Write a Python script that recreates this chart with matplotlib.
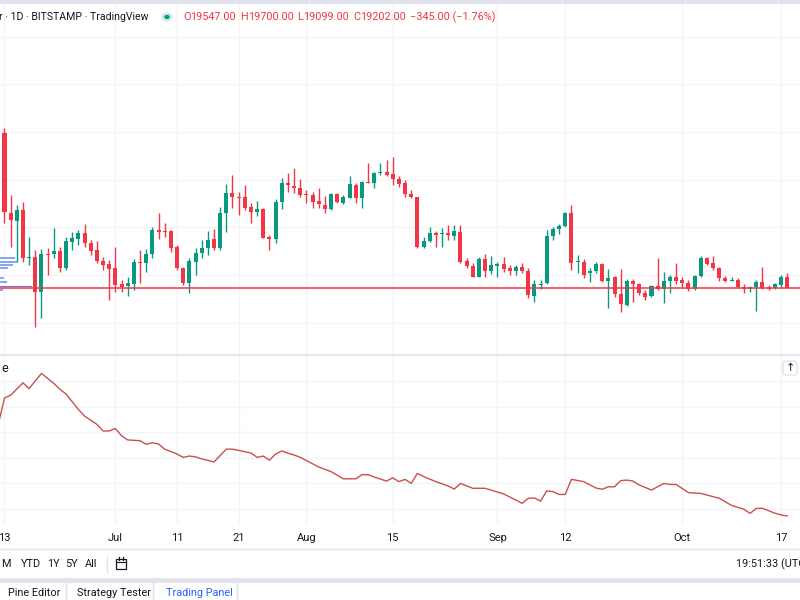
import matplotlib
matplotlib.use('Agg')
import matplotlib.pyplot as plt
import matplotlib.dates as mdates
from matplotlib.patches import Rectangle, Circle, FancyBboxPatch
from matplotlib.lines import Line2D
import pandas as pd

plt.rcParams['font.family'] = ['Roboto', 'DejaVu Sans']

# ---------------- data ----------------
dates = pd.date_range('2022-06-12', '2022-10-18', freq='D')

opens = [27300, 25950, 22590, 22270, 22730, 20700, 20740, 19270, 20880, 20870, 21020, 20310, 21400, 21510,
         21780, 21330, 21050, 20600, 20450, 20280, 19610, 19550, 19620, 20560, 20490, 20870, 21890, 21850,
         21850, 21180, 20310, 19650, 20530, 20910, 21120, 21500, 21120, 22620, 23430, 23260, 23260, 22840,
         22630, 22760, 21610, 21530, 23080, 23850, 23750, 23670, 23390, 23360, 23110, 22940, 22760, 23390,
         23010, 23250, 23780, 23220, 23920, 23880, 24270, 24310, 24230, 24030, 23850, 23390, 23260, 21160,
         21440, 21780, 21710, 21780, 21650, 21820, 20590, 20380, 19920, 20660, 20170, 20390, 20460, 20290,
         20170, 20350, 20150, 19120, 19570, 19650, 21640, 21920, 22070, 22590, 20530, 20560, 20100, 20170,
         20460, 19760, 19900, 19200, 18740, 19760, 19620, 19260, 19120, 19550, 19410, 19760, 19930, 19790,
         19650, 19400, 19960, 20700, 20520, 20280, 19860, 19760, 19790, 19510, 19400, 19480, 19720, 19510,
         19440, 19580, 19900]
highs = [27500, 26160, 23360, 22940, 23080, 21610, 21050, 21090, 21120, 21960, 21190, 21610, 21790, 21890,
         22130, 21470, 21440, 20770, 20630, 21190, 19790, 19930, 20670, 21050, 21080, 22030, 22590, 22200,
         21890, 21260, 20350, 20700, 21120, 21470, 21860, 21920, 22870, 23810, 24200, 23500, 23780, 23010,
         23110, 22800, 21680, 23180, 24090, 24270, 24480, 24020, 23570, 23500, 23640, 23320, 23460, 23430,
         23360, 24160, 23880, 23960, 24690, 24340, 24690, 24830, 24970, 24160, 23990, 23570, 23290, 21610,
         22030, 21850, 21960, 22120, 22100, 22080, 20700, 20490, 20770, 20880, 20800, 20550, 20740, 20400,
         20420, 20490, 20280, 19790, 19790, 21890, 22030, 22140, 22660, 22940, 20840, 20670, 20280, 20560,
         20520, 20240, 19960, 20240, 19820, 19820, 19680, 19370, 19580, 20700, 20140, 20000, 20520, 19900,
         19790, 20000, 20800, 20770, 20800, 20350, 19960, 19900, 19890, 19620, 19530, 19790, 20320, 19580,
         19680, 20000, 20070]
lows = [25950, 22170, 21190, 20560, 20560, 20420, 17830, 18210, 20000, 20730, 20140, 20210, 21050, 21260,
        21190, 20840, 20490, 20210, 18950, 19300, 19300, 19130, 19370, 19650, 20110, 20700, 21510, 21610,
        20980, 20210, 19580, 19230, 20000, 20700, 20840, 21050, 21050, 21820, 22800, 22520, 22730, 22170,
        22480, 21540, 21050, 21330, 22760, 23500, 23430, 23290, 23010, 22830, 22800, 22590, 22730, 23010,
        22980, 23220, 23010, 22830, 23850, 23640, 24200, 24160, 23780, 23710, 23290, 23220, 21120, 21120,
        21370, 21190, 21190, 21470, 21470, 20500, 20280, 19900, 19900, 19930, 20040, 19930, 20140, 20000,
        20000, 20070, 19020, 18880, 19400, 19620, 21470, 21710, 22030, 20210, 20080, 19860, 19720, 20070,
        19720, 18600, 19090, 18460, 18700, 18880, 19160, 18950, 19090, 19370, 18810, 19230, 19620, 19510,
        19340, 19370, 19900, 20420, 20210, 19760, 19710, 19730, 19440, 19230, 19290, 18500, 19400, 19370,
        19400, 19510, 19450]
closes = [26000, 22630, 22310, 22730, 20730, 20740, 19300, 20870, 20840, 21020, 20310, 21430, 21540, 21780,
          21330, 21010, 20600, 20420, 20250, 19580, 19510, 19650, 20560, 20490, 20870, 21890, 21820, 21810,
          21150, 20280, 19650, 20590, 20910, 21120, 21470, 21120, 22620, 23460, 23260, 23220, 22830, 22630,
          22760, 21570, 21530, 23080, 23850, 23780, 23640, 23360, 23350, 23080, 22970, 22760, 23400, 23080,
          23260, 23810, 23220, 23920, 23880, 24270, 24310, 24200, 24030, 23810, 23390, 23260, 21160, 21440,
          21780, 21700, 21780, 21680, 21850, 20560, 20380, 19920, 20680, 20170, 20420, 20460, 20250, 20180,
          20350, 20160, 19140, 19620, 19610, 21640, 21920, 22070, 22600, 20520, 20580, 20020, 20170, 20460,
          19760, 19860, 19200, 18780, 19760, 19620, 19230, 19090, 19540, 19410, 19760, 19930, 19760, 19650,
          19400, 19960, 20700, 20460, 20280, 19860, 19760, 19790, 19480, 19400, 19480, 19720, 19440, 19400,
          19610, 19900, 19460]

ind_dates = ['2022-06-12', '2022-06-13', '2022-06-14', '2022-06-16', '2022-06-17', '2022-06-19', '2022-06-21',
             '2022-06-22', '2022-06-23', '2022-06-25', '2022-06-26', '2022-06-28', '2022-06-29', '2022-06-30',
             '2022-07-01', '2022-07-02', '2022-07-03', '2022-07-05', '2022-07-06', '2022-07-07', '2022-07-08',
             '2022-07-09', '2022-07-11', '2022-07-12', '2022-07-13', '2022-07-14', '2022-07-15', '2022-07-17',
             '2022-07-19', '2022-07-20', '2022-07-21', '2022-07-23', '2022-07-24', '2022-07-25', '2022-07-26',
             '2022-07-27', '2022-07-28', '2022-07-29', '2022-07-30', '2022-07-31', '2022-08-03', '2022-08-05',
             '2022-08-07', '2022-08-09', '2022-08-10', '2022-08-11', '2022-08-12', '2022-08-14', '2022-08-15',
             '2022-08-16', '2022-08-17', '2022-08-18', '2022-08-19', '2022-08-20', '2022-08-22', '2022-08-24',
             '2022-08-25', '2022-08-26', '2022-08-28', '2022-08-30', '2022-09-02', '2022-09-04', '2022-09-05',
             '2022-09-06', '2022-09-07', '2022-09-08', '2022-09-09', '2022-09-10', '2022-09-11', '2022-09-12',
             '2022-09-13', '2022-09-15', '2022-09-17', '2022-09-18', '2022-09-19', '2022-09-20', '2022-09-21',
             '2022-09-22', '2022-09-23', '2022-09-24', '2022-09-26', '2022-09-28', '2022-09-29', '2022-09-30',
             '2022-10-02', '2022-10-04', '2022-10-07', '2022-10-09', '2022-10-11', '2022-10-12', '2022-10-13',
             '2022-10-14', '2022-10-16', '2022-10-17', '2022-10-18']
ind_values = [53.2, 63.4, 64.5, 69.3, 67.1, 73.0, 69.1, 66.8, 64.9, 58.9, 56.3, 53.1, 50.5, 50.5,
              51.5, 48.6, 47.0, 46.7, 45.3, 45.9, 45.4, 43.4, 41.5, 40.2, 40.7, 40.4, 39.6, 38.4,
              43.4, 43.4, 42.9, 41.9, 40.2, 40.7, 39.1, 41.5, 42.7, 41.8, 41.1, 40.2, 36.4, 34.6,
              31.8, 31.8, 33.4, 33.4, 32.5, 30.9, 32.2, 30.7, 31.6, 30.0, 33.9, 32.7, 30.7, 29.0,
              27.8, 30.0, 28.1, 28.1, 25.9, 23.5, 22.2, 24.2, 24.3, 23.1, 27.1, 26.8, 25.7, 25.7,
              31.6, 30.7, 28.2, 27.7, 28.7, 28.7, 31.1, 31.3, 30.9, 29.4, 27.4, 30.0, 29.6, 29.6,
              26.4, 26.1, 24.2, 21.4, 19.9, 18.3, 20.2, 20.3, 18.4, 17.7, 17.3]

# volume-profile rows shown at the left edge (price level, length in days)
vp_prices = [20700, 20560, 20420, 20280, 19860, 19690, 19370]
vp_lengths = [2.4, 2.8, 2.1, 1.3, 0.65, 1.1, 0.5]
poc_price = 19510
poc_length = 5.2

tick_dates = ['2022-06-13', '2022-07-01', '2022-07-11', '2022-07-21', '2022-08-01', '2022-08-15',
              '2022-09-01', '2022-09-12', '2022-10-01', '2022-10-17']
tick_labels = ['13', 'Jul', '11', '21', 'Aug', '15', 'Sep', '12', 'Oct', '17']

header_left = 'r · 1D · BITSTAMP · TradingView'
ohlc_parts = [('O', '19547.00'), ('H', '19700.00'), ('L', '19099.00'), ('C', '19202.00')]
change_text = '−345.00 (−1.76%)'

# ---------------- style ----------------
UP = '#089981'
DN = '#f23645'
GRID = '#f2f4f9'
TXT = '#131722'
SEP = '#e0e3eb'

W, H = 800, 600
def fx(x): return x / W
def fy(y): return 1 - y / H

fig = plt.figure(figsize=(8, 6), dpi=100)
fig.patch.set_facecolor('white')

ax = fig.add_axes([0, fy(355), 1, (355 - 4) / H])
ax2 = fig.add_axes([0, fy(525), 1, (525 - 355) / H])

xd = mdates.date2num(dates)
x0 = mdates.date2num(pd.Timestamp('2022-06-13'))
xlim = (x0 - 0.73, x0 + 129.1)
tick_x = mdates.date2num(pd.to_datetime(tick_dates))

for a in (ax, ax2):
    a.set_xlim(*xlim)
    for s in a.spines.values():
        s.set_visible(False)
    a.set_facecolor('none')
    a.set_xticks(tick_x)
    a.tick_params(length=0)
    a.grid(True, color=GRID, lw=1)
    a.set_axisbelow(True)

# ---- price pane ----
ax.set_ylim(16640, 31380)
ax.set_yticks(range(18000, 31000, 2000))
ax.set_xticklabels([])
ax.set_yticklabels([])

body_w = 0.65
for x, o, h, l, c in zip(xd, opens, highs, lows, closes):
    col = UP if c >= o else DN
    ax.vlines(x, l, h, color=col, lw=1.0, zorder=2)
    bh = max(abs(c - o), 40)
    ax.bar(x, bh, bottom=min(o, c), width=body_w, color=col, linewidth=0, zorder=3)

# volume profile rows
for p, ln in zip(vp_prices, vp_lengths):
    ax.barh(p, ln, left=xlim[0], height=90, color='#5b8af5', alpha=0.75, linewidth=0, zorder=4)
ax.barh(poc_price, poc_length, left=xlim[0], height=70, color='#5f5fd6', alpha=0.9, linewidth=0, zorder=4)

# last price line
ax.axhline(closes[-1], color=DN, lw=1.1, zorder=5)

# ---- indicator pane ----
ax2.set_ylim(13.75, 80.2)
ax2.set_yticks(range(20, 80, 10))
ax2.set_yticklabels([])
ax2.plot(mdates.date2num(pd.to_datetime(ind_dates)), ind_values, color='#c9504e', lw=1.0, zorder=3)
ax2.set_xticklabels(tick_labels, fontsize=8, color=TXT)
ax2.tick_params(axis='x', pad=6)
ax2.text(0.002, (369 - 525) / -170, 'e', transform=ax2.transAxes, fontsize=9, color=TXT,
         ha='left', va='center')

# up button
fig.patches.append(FancyBboxPatch((fx(783), fy(375)), 14 / W, 14 / H, boxstyle='round,pad=0,rounding_size=0.004',
                                  transform=fig.transFigure, facecolor='white', edgecolor=SEP, lw=1))
fig.text(fx(790), fy(368), '↑', fontsize=8, color=TXT, ha='center', va='center', family='DejaVu Sans')

# pane separator and frame lines
def hline(y, x1=0, x2=800, color=SEP, lw=1.0):
    fig.add_artist(Line2D([fx(x1), fx(x2)], [fy(y), fy(y)], color=color, lw=lw, transform=fig.transFigure))
def vline(x, y1, y2, color=SEP, lw=1.0):
    fig.add_artist(Line2D([fx(x), fx(x)], [fy(y1), fy(y2)], color=color, lw=lw, transform=fig.transFigure))

hline(1.5, color=SEP, lw=3)
hline(355, color=SEP, lw=1.2)
hline(549, color=SEP, lw=1)
hline(580, color=SEP, lw=3.5)
for xv in (66, 153, 237):
    vline(xv, 583, 600)
vline(107, 556, 572)

# ---- header ----
fig.text(fx(-1), fy(17), header_left, fontsize=7.6, color=TXT, ha='left', va='center')
fig.patches.append(Circle((fx(167), fy(17)), 6 / W, transform=fig.transFigure, facecolor=UP, alpha=0.18,
                          edgecolor='none'))
fig.patches.append(Circle((fx(167), fy(17)), 2.8 / W, transform=fig.transFigure, facecolor=UP, edgecolor='none'))

renderer = fig.canvas.get_renderer()
xpos = 183
for lab, val in ohlc_parts:
    t1 = fig.text(fx(xpos), fy(17), lab, fontsize=7.8, color=DN, ha='left', va='center')
    xpos += t1.get_window_extent(renderer).width
    t2 = fig.text(fx(xpos), fy(17), val, fontsize=7.8, color=DN, ha='left', va='center')
    xpos += t2.get_window_extent(renderer).width + 4
fig.text(fx(xpos), fy(17), change_text, fontsize=7.8, color=DN, ha='left', va='center')

# ---- bottom toolbar ----
for lab, xl in [('M', 1), ('YTD', 21), ('1Y', 47), ('5Y', 65), ('All', 85)]:
    fig.text(fx(xl), fy(564), lab, fontsize=7.8, color=TXT, ha='left', va='center')
# calendar icon
fig.patches.append(Rectangle((fx(116), fy(569)), 10 / W, 10 / H, transform=fig.transFigure,
                             facecolor='none', edgecolor=TXT, lw=0.9))
vline(119, 557, 560, color=TXT, lw=0.9)
vline(123, 557, 560, color=TXT, lw=0.9)
hline(562, 116, 126, color=TXT, lw=0.8)
fig.text(fx(736), fy(564), '19:51:33 (UTC)', fontsize=7.8, color=TXT, ha='left', va='center')

for lab, xl, col in [('Pine Editor', 8, TXT), ('Strategy Tester', 77, TXT), ('Trading Panel', 166, '#2962ff')]:
    fig.text(fx(xl), fy(593), lab, fontsize=7.8, color=col, ha='left', va='center')

fig.savefig('out.png', dpi=100, facecolor='white')
